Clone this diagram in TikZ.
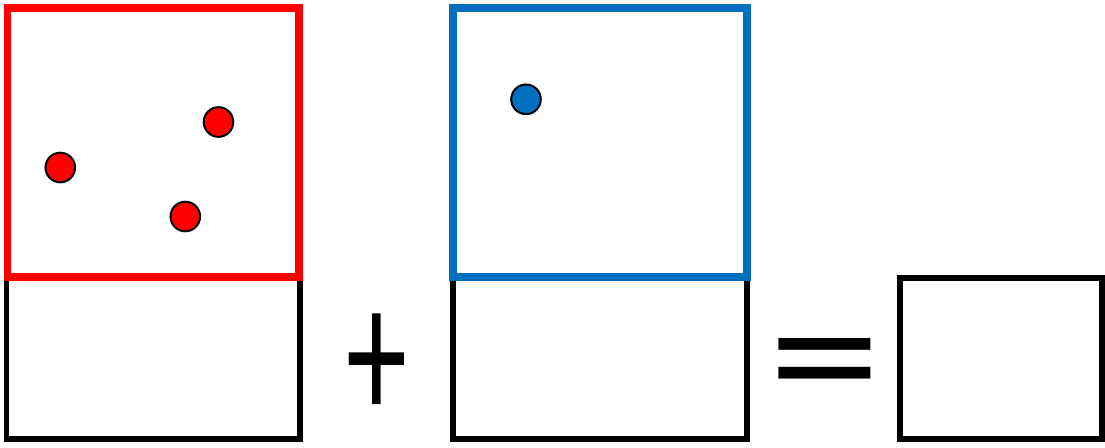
\documentclass[tikz,border=0pt]{standalone}
\usepackage{fontspec}
\setmainfont{Carlito}
\definecolor{redbox}{HTML}{FF0000}
\definecolor{bluebox}{HTML}{0070C0}
\tikzset{
  blackframe/.style={draw=black, line width=5.6pt},
  redframe/.style={draw=redbox, line width=7.6pt},
  blueframe/.style={draw=bluebox, line width=7.6pt},
  dot/.style={circle, draw=black, line width=2pt, minimum size=29.6pt, inner sep=0pt},
  sym/.style={inner sep=0pt, anchor=base}
}
\begin{document}
\begin{tikzpicture}[x=1pt,y=-1pt]
\useasboundingbox (0,0) rectangle (1105,447);
% lower black boxes
\draw[blackframe] (6.3,277) rectangle (300,439);
\draw[blackframe] (452.8,277) rectangle (746.8,439);
\draw[blackframe] (900,278) rectangle (1101.7,438.7);
% upper coloured boxes
\draw[redframe] (7.3,7.8) rectangle (299.2,277);
\draw[blueframe] (452.8,7.8) rectangle (747,277);
% dots
\node[dot, fill=redbox] (r1) at (60.3,167.5) {};
\node[dot, fill=redbox] (r2) at (218.5,122) {};
\node[dot, fill=redbox] (r3) at (185.3,216.5) {};
\node[dot, fill=bluebox] (b1) at (526,99.3) {};
% operators
\node[sym, font=\fontsize{194}{194}\selectfont] (plus) at (377,420) {\scalebox{0.63}[1]{+}};
\node[sym, font=\fontsize{249}{249}\selectfont] (eq) at (825,416) {\scalebox{0.91}[0.73]{=}};
\end{tikzpicture}
\end{document}
